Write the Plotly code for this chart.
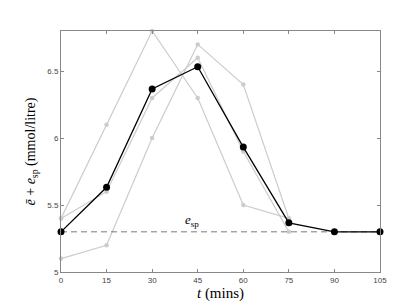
import plotly.graph_objects as go

t_mins = [0, 15, 30, 45, 60, 75]
series_a = [5.4, 6.1, 6.8, 6.3, 5.5, 5.4]
series_b = [5.4, 5.6, 6.3, 6.6, 5.9, 5.3]
series_c = [5.1, 5.2, 6.0, 6.7, 6.4, 5.4]
t_mean = [0, 15, 30, 45, 60, 75, 90, 105]
mean_vals = [5.3, 5.633, 6.367, 6.533, 5.933, 5.367, 5.3, 5.3]
e_sp = 5.3
x_ticks = [0, 15, 30, 45, 60, 75, 90, 105]
y_ticks = [5, 5.5, 6, 6.5]
y_tick_labels = ["5", "5.5", "6", "6.5"]

fig = go.Figure()
for s in [series_a, series_b, series_c]:
    fig.add_trace(go.Scatter(x=t_mins, y=s, mode="lines+markers", cliponaxis=False,
                             line=dict(color="#cccccc", width=1.2),
                             marker=dict(color="#cccccc", size=4.5),
                             showlegend=False, hoverinfo="skip"))
fig.add_trace(go.Scatter(x=[0, 105], y=[e_sp, e_sp], mode="lines",
                         line=dict(color="#7a7a7a", width=1, dash="6px,4px"),
                         showlegend=False))
fig.add_trace(go.Scatter(x=t_mean, y=mean_vals, mode="lines+markers", cliponaxis=False,
                         line=dict(color="black", width=1.3),
                         marker=dict(color="black", size=7),
                         showlegend=False))
fig.add_annotation(x=43, y=e_sp, yshift=11, text="<i>e</i><sub>sp</sub>",
                   showarrow=False, font=dict(family="Liberation Serif", size=13, color="black"))

axis_common = dict(showgrid=False, zeroline=False, showline=True, linecolor="#888888",
                   linewidth=1, mirror="ticks", ticks="inside", ticklen=3, tickcolor="#888888",
                   tickfont=dict(family="Liberation Sans", size=8, color="#444444"))
fig.update_xaxes(range=[0, 105], tickvals=x_ticks,
                 title=dict(text="<i>t</i> (mins)", font=dict(family="Liberation Serif", size=15, color="black"), standoff=2),
                 **axis_common)
fig.update_yaxes(range=[5, 6.8], tickvals=y_ticks, ticktext=y_tick_labels,
                 title=dict(text="<i>ē</i> + <i>e</i><sub>sp</sub> (mmol/litre)", font=dict(family="Liberation Serif", size=14, color="black"), standoff=8),
                 **axis_common)
fig.update_layout(width=411, height=301, margin=dict(l=53, r=39, t=23, b=33),
                  plot_bgcolor="white", paper_bgcolor="white")
fig.write_html("out.html")
